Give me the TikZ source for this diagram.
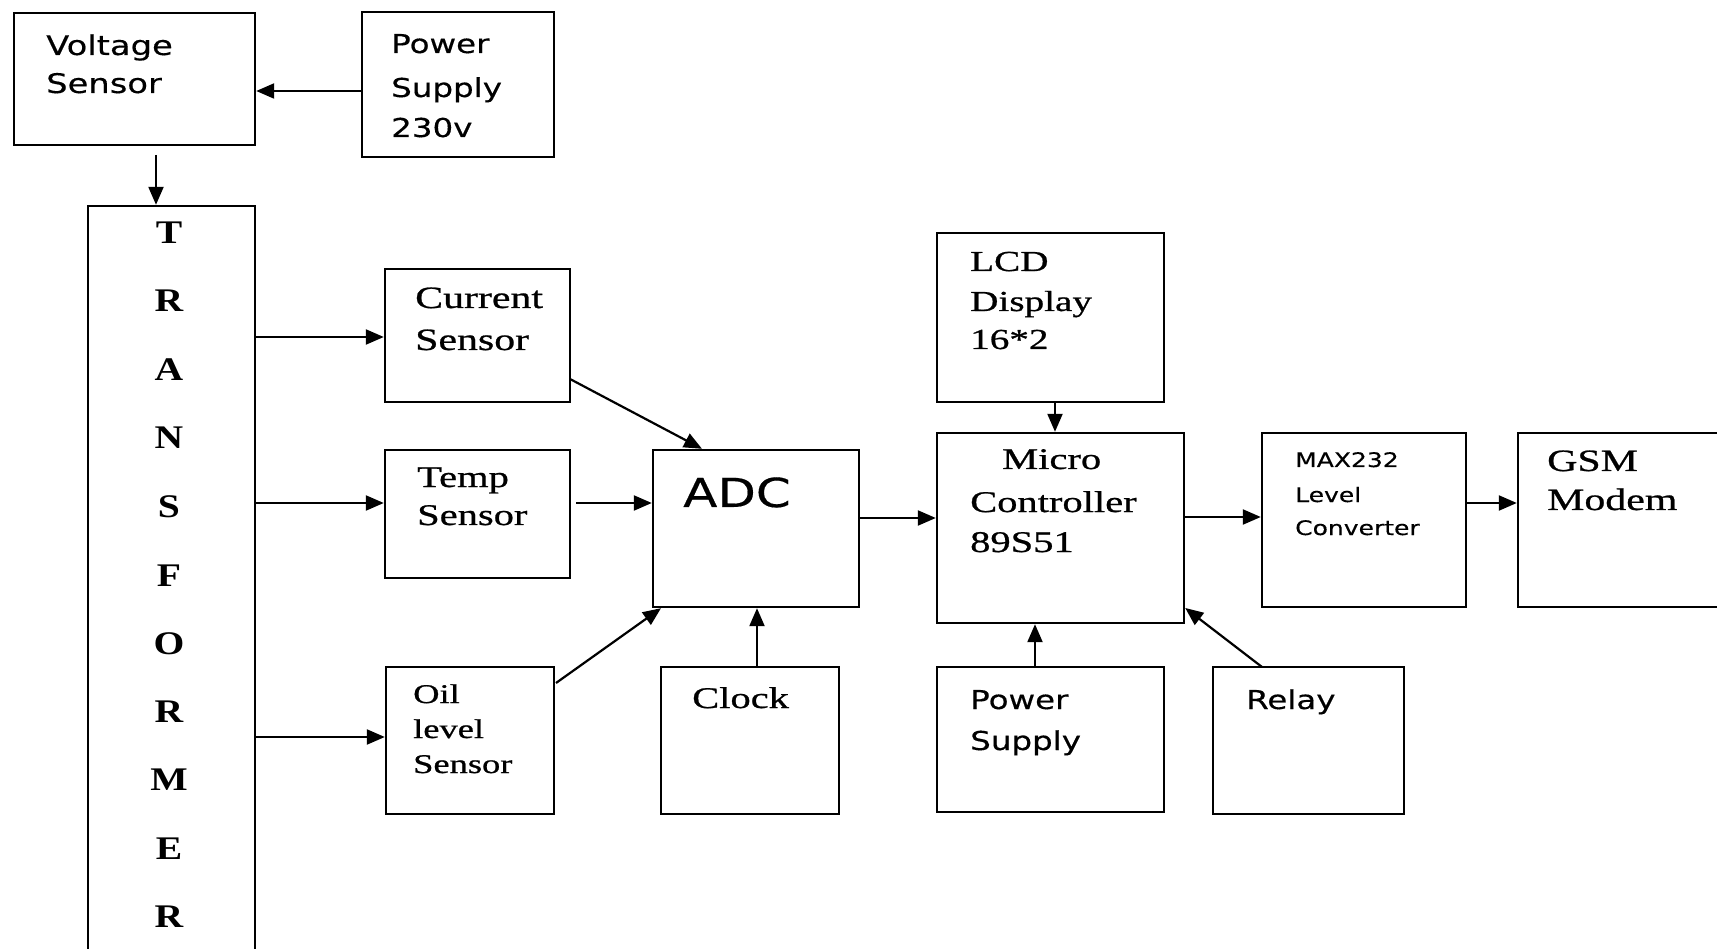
\documentclass[tikz,border=0pt]{standalone}
\usepackage{fontspec}
\setmainfont[FakeStretch=1.35,FakeBold=0.8]{Liberation Serif}
\newfontfamily\sw[FakeStretch=1.25,FakeBold=0.4]{DejaVu Sans}
\newfontfamily\tbold[FakeStretch=1.2]{Liberation Serif Bold}
\usetikzlibrary{arrows.meta}
\newcommand\fsan[1]{\sw\fontsize{#1}{#1}\selectfont}
\newcommand\fser[1]{\rmfamily\fontsize{#1}{#1}\selectfont}
\newcommand\bx[5]{\node[box, minimum width={(#4-#2)*1pt}, minimum height={(#5-#3)*1pt}] (#1) at ({(#2+#4)/2},{(#3+#5)/2}) {};}
\newcommand\lbl[5]{\node[anchor=base west, inner sep=0, font=#2] (#1) at (#3,#4) {#5};}
\begin{document}
\begin{tikzpicture}[x=1pt,y=-1pt,
  box/.style={draw, rectangle, line width=2.4pt, inner sep=0pt},
  arr/.style={line width=2.2pt, -{Triangle[length=18pt,width=15pt]}},
  tletter/.style={anchor=base, inner sep=0, font=\tbold\fontsize{33}{33}\selectfont}]
\path[use as bounding box, clip] (0,0) rectangle (1717,949);
\fill[white] (0,0) rectangle (1717,949);
% boxes
\bx{VS}{14}{13}{255}{145}
\bx{PS1}{362}{12}{554}{157}
\bx{TR}{88}{206}{255}{980}
\bx{CS}{385}{269}{570}{402}
\bx{TS}{385}{450}{570}{578}
\bx{OS}{386}{667}{554}{814}
\bx{ADC}{653}{450}{859}{607}
\bx{CLK}{661}{667}{839}{814}
\bx{LCD}{937}{233}{1164}{402}
\bx{MC}{937}{433}{1184}{623}
\bx{PS2}{937}{667}{1164}{812}
\bx{RL}{1213}{667}{1404}{814}
\bx{MAX}{1262}{433}{1466}{607}
\bx{GSM}{1518}{433}{1760}{607}
% texts
\lbl{vs1}{\fsan{27}}{46}{55}{Voltage}
\lbl{vs2}{\fsan{27}}{46}{93}{Sensor}
\lbl{pa1}{\fsan{26}}{391}{53}{Power}
\lbl{pa2}{\fsan{26}}{391}{97}{Supply}
\lbl{pa3}{\fsan{26}}{391}{137}{230v}
\lbl{cs1}{\fser{31}}{415}{308}{Current}
\lbl{cs2}{\fser{31}}{415}{350}{Sensor}
\lbl{ts1}{\fser{30}}{417}{487}{Temp}
\lbl{ts2}{\fser{30}}{417}{525}{Sensor}
\lbl{os1}{\fser{27}}{413}{703}{Oil}
\lbl{os2}{\fser{27}}{413}{738}{level}
\lbl{os3}{\fser{27}}{413}{773}{Sensor}
\lbl{adc1}{\fsan{40}}{683}{507}{ADC}
\lbl{clk1}{\fser{30}}{692}{708}{Clock}
\lbl{lcd1}{\fser{29}}{970}{271}{LCD}
\lbl{lcd2}{\fser{29}}{970}{311}{Display}
\lbl{lcd3}{\fser{29}}{970}{349}{16*2}
\lbl{mc1}{\fser{30}}{1002}{469}{Micro}
\lbl{mc2}{\fser{30}}{970}{512}{Controller}
\lbl{mc3}{\fser{30}}{970}{552}{89S51}
\lbl{pb1}{\fsan{26}}{970}{709}{Power}
\lbl{pb2}{\fsan{26}}{970}{750}{Supply}
\lbl{rl1}{\fsan{26}}{1246}{709}{Relay}
\lbl{mx1}{\fsan{20}}{1295}{467}{MAX232}
\lbl{mx2}{\fsan{20}}{1295}{502}{Level}
\lbl{mx3}{\fsan{20}}{1295}{535}{Converter}
\lbl{gs1}{\fser{31}}{1547}{471}{GSM}
\lbl{gs2}{\fser{31}}{1547}{510}{Modem}
% transformer letters
\node[tletter] (t1) at (169,244) {T};
\node[tletter] (t2) at (169,312) {R};
\node[tletter] (t3) at (169,381) {A};
\node[tletter] (t4) at (169,449) {N};
\node[tletter] (t5) at (169,517) {S};
\node[tletter] (t6) at (169,586) {F};
\node[tletter] (t7) at (169,654) {O};
\node[tletter] (t8) at (169,722) {R};
\node[tletter] (t9) at (169,790) {M};
\node[tletter] (t10) at (169,859) {E};
\node[tletter] (t11) at (169,927) {R};
% connectors
\coordinate (vsout) at (156,155);
\coordinate (tsout) at (576,503);
\coordinate (osout) at (556,683);
\coordinate (csout) at (570,379);
\coordinate (rlout) at (1262,667);
\draw[arr] (PS1.west |- 0,91) -- (VS.east |- 0,91);
\draw[arr] (vsout) -- (TR.north -| vsout);
\draw[arr] (TR.east |- 0,337) -- (CS.west |- 0,337);
\draw[arr] (TR.east |- 0,503) -- (TS.west |- 0,503);
\draw[arr] (TR.east |- 0,737) -- (OS.west |- 0,737);
\draw[arr] (csout) -- (ADC.north -| 702,0);
\draw[arr] (tsout) -- (ADC.west |- tsout);
\draw[arr] (osout) -- (ADC.south -| 661,0);
\draw[arr] (CLK.north -| 757,0) -- (ADC.south -| 757,0);
\draw[arr] (ADC.east |- 0,518) -- (MC.west |- 0,518);
\draw[arr] (LCD.south -| 1055,0) -- (MC.north -| 1055,0);
\draw[arr] (PS2.north -| 1035,0) -- (MC.south -| 1035,0);
\draw[arr] (rlout) -- (MC.east |- 0,608);
\draw[arr] (MC.east |- 0,517) -- (MAX.west |- 0,517);
\draw[arr] (MAX.east |- 0,503) -- (GSM.west |- 0,503);
\end{tikzpicture}
\end{document}
